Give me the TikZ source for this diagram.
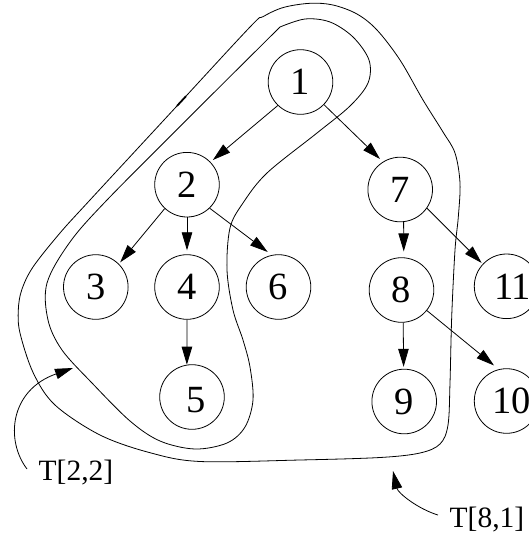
\documentclass[tikz,border=0pt]{standalone}
\usepackage{fontspec}
\setmainfont{Liberation Serif}
\usetikzlibrary{arrows.meta}
\begin{document}
\begin{tikzpicture}[x=1pt,y=-1pt,
  vert/.style={circle,draw,line width=0.8pt,minimum size=64.6pt,inner sep=0pt,
    font=\fontsize{38.5}{40}\selectfont},
  digit/.style={font=\fontsize{38.5}{40}\selectfont,inner sep=0pt},
  edge/.style={line width=0.8pt,-{Triangle[length=18pt,width=10.5pt]}},
  hull/.style={line width=0.8pt},
  tag/.style={font=\fontsize{29.5}{32}\selectfont,inner sep=0pt,anchor=base west}]
\useasboundingbox (0,0) rectangle (529,536);

% tree vertices
\node[vert] (n1) at (300.5,82) {1};
\node[vert] (n2) at (187,184.7) {2};
\node[vert] (n7) at (400.2,189.5) {7};
\node[vert] (n3) at (95.8,287) {3};
\node[vert] (n4) at (187,287) {4};
\node[vert] (n6) at (278.5,287) {6};
\node[vert] (n8) at (401.5,290) {8};
\node[vert,label={[digit,xshift=6pt]center:11}] (n11) at (506.6,286.3) {};
\node[vert,label={[digit,xshift=4.5pt,yshift=-3pt]center:5}] (n5) at (192,397) {};
\node[vert] (n9) at (404.2,401.5) {9};
\node[vert,label={[digit,xshift=5pt]center:10}] (n10) at (506.6,401) {};

% tree edges
\draw[edge,shorten >=3pt] (n1.226) -- (n2.44);
\draw[edge,shorten >=4pt] (n1.-44) -- (n7.122);
\draw[edge,shorten >=2pt] (n2.227) -- (n3.45);
\draw[edge,shorten >=4pt] (n2.south) -- (n4.north);
\draw[edge,shorten >=5pt] (n2.-46) -- (n6.102);
\draw[edge] (n4.south) -- (n5.99);
\draw[edge,shorten >=6pt] (n7.-84.5) -- (n8.86.8);
\draw[edge,shorten >=1.5pt] (n7.-35) -- (n11.137);
\draw[edge,shorten >=2pt] (n8.-87) -- (n9.91.6);
\draw[edge,shorten >=6pt] (n8.-39) -- (n10.104);

% outer region T[8,1]
\draw[hull] plot[smooth cycle,tension=0.55] coordinates {
  (310,3.3) (283.3,7.5) (263,16.7) (250,27) (170,113.5) (90,200)
  (60,233) (33,267) (21.7,290) (18.3,310) (20,333) (33.3,373)
  (55,405) (100,435) (150,452.7) (200,461.5) (300,460) (380,457.5)
  (420,453) (440,444) (448,425) (450,383) (451.7,317) (455,250)
  (458.3,217) (460,183) (455,153) (443,132) (423,100) (400,60)
  (377,30) (357,14) (333,5)};
\draw[line width=1.8pt] (177,105.9) -- (186,96.2);

% inner region T[2,2]
\draw[hull] plot[smooth,tension=0.55] coordinates {
  (280,27) (193,113.5) (107,200) (70,242) (47,283) (48,320) (62,350)
  (92,383) (130,421) (160,441) (195,449) (227,443) (245,427) (253,400)
  (250,367) (243,340) (233,310) (227,270) (230,228) (243,203) (267,173)
  (317,133) (350,106) (368,83) (369,60) (353,37) (330,22) (305,19) (280,27)};

% region labels
\node[tag] (t22) at (38.5,480.7) {T[2,2]};
\node[tag] (t81) at (449.5,527.3) {T[8,1]};
\coordinate (a22) at (27,469);
\coordinate (b22) at (73,368);
\draw[edge] (a22) .. controls (5,440) and (10,390) .. (b22);
\coordinate (a81) at (438,515);
\coordinate (b81) at (393,471);
\draw[edge] (a81) .. controls (418,509) and (398,493) .. (b81);
\end{tikzpicture}
\end{document}
